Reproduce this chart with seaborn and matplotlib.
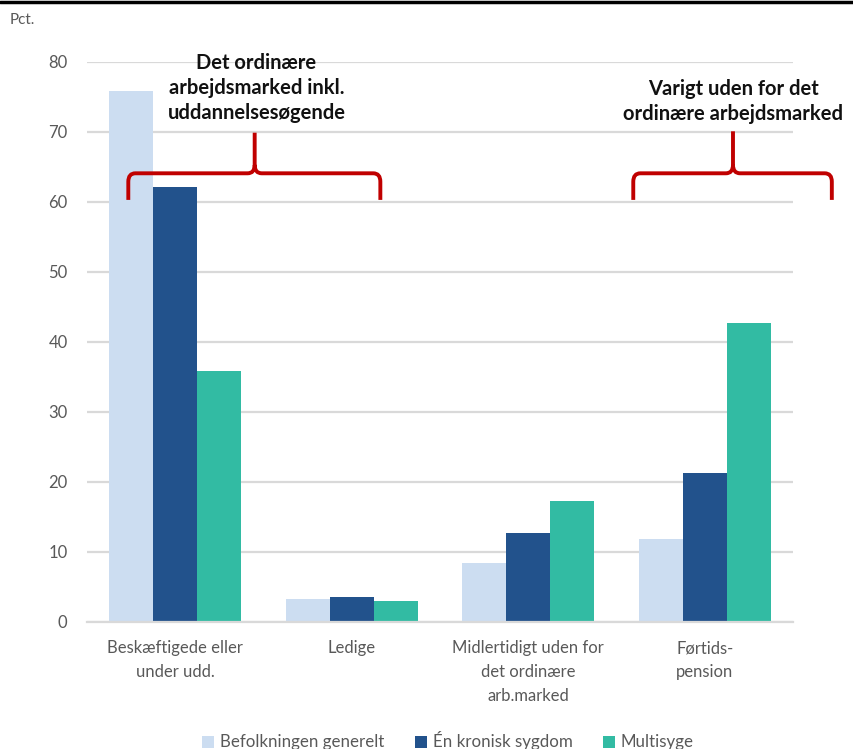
import matplotlib
matplotlib.use("Agg")
import matplotlib.pyplot as plt
from matplotlib.path import Path
from matplotlib.patches import PathPatch
from matplotlib.lines import Line2D
import seaborn as sns
import pandas as pd

categories = [
    "Beskæftigede eller\nunder udd.",
    "Ledige",
    "Midlertidigt uden for\ndet ordinære\narb.marked",
    "Førtids-\npension",
]
series_names = ["Befolkningen generelt", "Én kronisk sygdom", "Multisyge"]
befolkningen = [75.8, 3.3, 8.5, 11.8]
en_kronisk = [62.1, 3.6, 12.7, 21.3]
multisyge = [35.8, 3.0, 17.3, 42.7]
y_ticks = [0, 10, 20, 30, 40, 50, 60, 70, 80]

colors = ["#CCDDF1", "#22528C", "#32BBA3"]
gray_text = "#595959"
grid_gray = "#D9D9D9"
red = "#C00000"

df = pd.DataFrame({
    "Kategori": categories * 3,
    "Gruppe": sum([[s] * len(categories) for s in series_names], []),
    "Pct": befolkningen + en_kronisk + multisyge,
})

sns.set_style("white")
plt.rcParams["font.family"] = ["Lato", "DejaVu Sans"]

fig = plt.figure(figsize=(8.54, 7.49), dpi=100)
ax = fig.add_axes([87 / 854, 1 - 622 / 749, (793 - 87) / 854, (622 - 62) / 749])

sns.barplot(data=df, x="Kategori", y="Pct", hue="Gruppe", order=categories,
            hue_order=series_names, palette=colors, saturation=1, width=0.75,
            edgecolor="none", linewidth=0, errorbar=None, ax=ax, legend=True)

ax.set_ylim(0, 80)
ax.set_xlim(-0.5, 3.5)
ax.set_yticks(y_ticks)
ax.set_xlabel("")
ax.set_ylabel("")
ax.set_axisbelow(True)
ax.yaxis.grid(True, color=grid_gray, lw=1.6)
for side in ["top", "right", "left"]:
    ax.spines[side].set_visible(False)
ax.spines["bottom"].set_color(grid_gray)
ax.spines["bottom"].set_linewidth(1.6)

ax.tick_params(axis="y", length=0, pad=14, labelsize=12, labelcolor=gray_text)
ax.tick_params(axis="x", which="major", length=0, pad=13, labelsize=12,
               labelcolor=gray_text)
ax.set_xticks([-0.5, 0.5, 1.5, 2.5, 3.5], minor=True)
ax.tick_params(axis="x", which="minor", length=4.5, width=1.6, color=grid_gray)
for lbl in ax.get_xticklabels():
    lbl.set_linespacing(1.6)

# Legend along the bottom edge
handles, labels = ax.get_legend_handles_labels()
ax.legend(handles, labels, loc="center", bbox_to_anchor=(448 / 854, 1 - 741 / 749),
          bbox_transform=fig.transFigure, ncol=3, frameon=False, fontsize=12.2,
          handlelength=0.7, handleheight=0.7, handletextpad=0.35,
          columnspacing=1.8, labelcolor=gray_text)


def bracket(ax, x0, x1, xc, y_end, y_mid, y_peak, rx=0.04, ry=1.2):
    verts = [
        (x0, y_end), (x0, y_mid - ry), (x0, y_mid), (x0 + rx, y_mid),
        (xc - rx, y_mid), (xc, y_mid), (xc, y_mid + ry), (xc, y_peak),
        (xc, y_mid + ry), (xc, y_mid), (xc + rx, y_mid),
        (x1 - rx, y_mid), (x1, y_mid), (x1, y_mid - ry), (x1, y_end),
    ]
    codes = [
        Path.MOVETO, Path.LINETO, Path.CURVE3, Path.CURVE3,
        Path.LINETO, Path.CURVE3, Path.CURVE3, Path.LINETO,
        Path.MOVETO, Path.CURVE3, Path.CURVE3,
        Path.LINETO, Path.CURVE3, Path.CURVE3, Path.LINETO,
    ]
    patch = PathPatch(Path(verts, codes), facecolor="none", edgecolor=red,
                      lw=2.8, capstyle="butt", joinstyle="round", clip_on=False,
                      zorder=5)
    ax.add_patch(patch)


bracket(ax, -0.266, 1.162, 0.45, 60.3, 64.1, 69.9)
bracket(ax, 2.595, 3.72, 3.16, 60.3, 64.1, 70.1)

ax.text(0.46, 76.3, "Det ordinære\narbejdsmarked inkl.\nuddannelsesøgende",
        ha="center", va="center", fontsize=14.5, fontweight="bold",
        color="#111111", linespacing=1.3, zorder=6)
ax.text(3.16, 74.4, "Varigt uden for det\nordinære arbejdsmarked",
        ha="center", va="center", fontsize=14.5, fontweight="bold",
        color="#111111", linespacing=1.3, zorder=6, clip_on=False)

fig.text(10 / 854, 1 - 20 / 749, "Pct.", ha="left", va="center", fontsize=11,
         color=gray_text)

fig.add_artist(Line2D([0, 1], [1 - 1.5 / 749, 1 - 1.5 / 749],
                      transform=fig.transFigure, color="black", lw=2.5))

fig.savefig("out.png", dpi=100)
